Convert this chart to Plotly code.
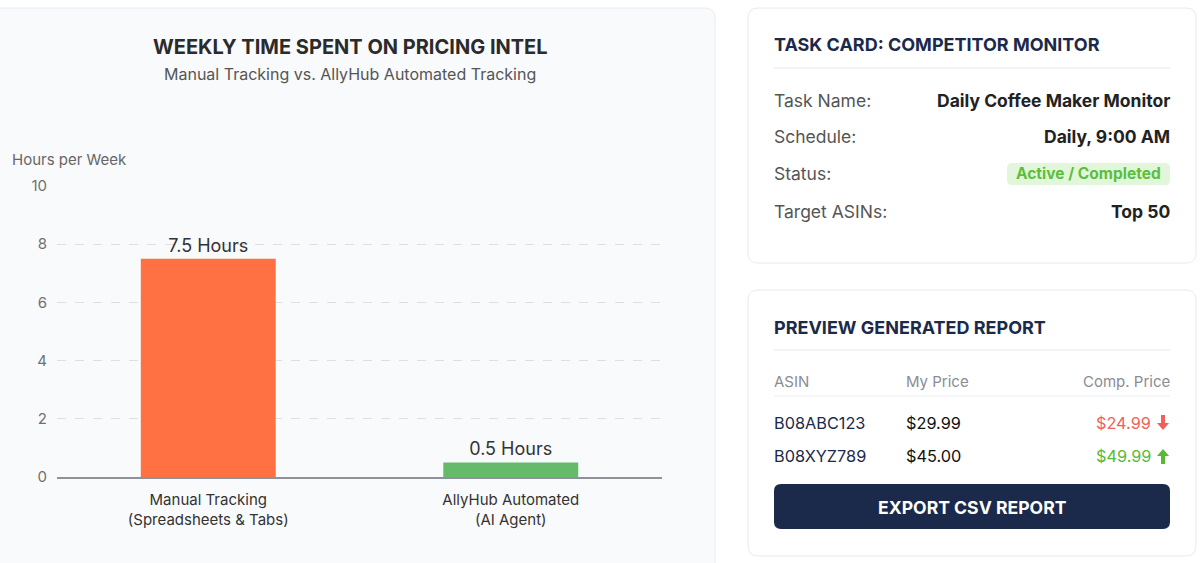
import plotly.graph_objects as go

# ---------------- data ----------------
categories = ["Manual Tracking<br>(Spreadsheets & Tabs)", "AllyHub Automated<br>(AI Agent)"]
hours = [7.5, 0.5]
bar_labels = ["7.5 Hours", "0.5 Hours"]
bar_colors = ["#FF7043", "#66BB6A"]
y_ticks = [0, 2, 4, 6, 8, 10]

task_labels = ["Task Name:", "Schedule:", "Status:", "Target ASINs:"]
task_values = ["Daily Coffee Maker Monitor", "Daily, 9:00 AM", "Active / Completed", "Top 50"]

report_headers = ["ASIN", "My Price", "Comp. Price"]
report_asins = ["B08ABC123", "B08XYZ789"]
report_my_prices = ["$29.99", "$45.00"]
report_comp_prices = ["$24.99", "$49.99"]
report_direction = ["down", "up"]

FONT = "Inter, Roboto, sans-serif"
W, H = 1200, 563
L, R, T, B = 57, 662, 186, 477  # plot area in px


def px(x):
    return (x - L) / (R - L)


def py(y):
    return (B - y) / (B - T)


def rrect(x0, y0, x1, y1, r):
    pts = [
        f"M {px(x0 + r)},{py(y0)}",
        f"L {px(x1 - r)},{py(y0)}",
        f"Q {px(x1)},{py(y0)} {px(x1)},{py(y0 + r)}",
        f"L {px(x1)},{py(y1 - r)}",
        f"Q {px(x1)},{py(y1)} {px(x1 - r)},{py(y1)}",
        f"L {px(x0 + r)},{py(y1)}",
        f"Q {px(x0)},{py(y1)} {px(x0)},{py(y1 - r)}",
        f"L {px(x0)},{py(y0 + r)}",
        f"Q {px(x0)},{py(y0)} {px(x0 + r)},{py(y0)}",
        "Z",
    ]
    return " ".join(pts)


shapes = []
annotations = []


def card(x0, y0, x1, y1, fill, line="#e8eaf0", r=10):
    shapes.append(dict(type="path", path=rrect(x0, y0, x1, y1, r), xref="paper", yref="paper",
                       fillcolor=fill, line=dict(color=line, width=1), layer="below"))


def hline(x0, x1, y, color="#e6e8ec", width=1):
    shapes.append(dict(type="line", xref="paper", yref="paper", x0=px(x0), x1=px(x1), y0=py(y), y1=py(y),
                       line=dict(color=color, width=width), layer="below"))


def text(x, y, s, size=16, color="#333", bold=False, anchor="left"):
    if bold:
        s = f"<b>{s}</b>"
    annotations.append(dict(x=px(x), y=py(y), xref="paper", yref="paper", text=s, showarrow=False,
                            xanchor=anchor, yanchor="middle", borderpad=0, borderwidth=0,
                            font=dict(size=size, color=color, family=FONT)))


# left chart card
card(-12, 8, 715, 600, "#f9fafc", line="#eaecf2")
# right cards
card(748, 8, 1196, 263, "#ffffff")
card(748, 290, 1196, 556, "#ffffff")

# chart titles
text(350, 47, "WEEKLY TIME SPENT ON PRICING INTEL", size=20, color="#2b2b2b", bold=True, anchor="center")
text(350, 74, "Manual Tracking vs. AllyHub Automated Tracking", size=16, color="#555", anchor="center")
text(12, 159, "Hours per Week", size=15, color="#666")

# task card
NAVY = "#1b2a4a"
text(774, 45, "TASK CARD: COMPETITOR MONITOR", size=18, color=NAVY, bold=True)
hline(774, 1170, 68)
row_y = [101, 137, 174, 211]
for lab, val, yy in zip(task_labels, task_values, row_y):
    text(774, yy, lab, size=17.5, color="#555")
    if lab == "Status:":
        shapes.append(dict(type="path", path=rrect(1007, 163, 1170, 185, 5), xref="paper", yref="paper",
                           fillcolor="#e2f6dc", line=dict(width=0), layer="below"))
        text(1088.5, yy, val, size=15.5, color="#5bbf3a", bold=True, anchor="center")
    else:
        text(1170, yy, val, size=17.5, color="#222", bold=True, anchor="right")

# report card
text(774, 327, "PREVIEW GENERATED REPORT", size=18, color=NAVY, bold=True)
hline(774, 1170, 350)
text(774, 381, report_headers[0], size=15, color="#8a8d93")
text(906, 381, report_headers[1], size=15, color="#8a8d93")
text(1170, 381, report_headers[2], size=15, color="#8a8d93", anchor="right")
hline(774, 1170, 396, color="#eceef1")
rows_y = [423, 456]
for a, m, c, d, yy in zip(report_asins, report_my_prices, report_comp_prices, report_direction, rows_y):
    col = "#f25f58" if d == "down" else "#55bb35"
    text(774, yy, a, size=16.3, color=NAVY)
    text(906, yy, m, size=16.3, color="#111")
    text(1151, yy, c, size=16.3, color=col, anchor="right")
    cx = 1163
    if d == "down":
        p = (f"M {px(cx-2)},{py(yy-8)} L {px(cx+2)},{py(yy-8)} L {px(cx+2)},{py(yy)} L {px(cx+6)},{py(yy)} "
             f"L {px(cx)},{py(yy+7)} L {px(cx-6)},{py(yy)} L {px(cx-2)},{py(yy)} Z")
    else:
        p = (f"M {px(cx-2)},{py(yy+8)} L {px(cx+2)},{py(yy+8)} L {px(cx+2)},{py(yy)} L {px(cx+6)},{py(yy)} "
             f"L {px(cx)},{py(yy-7)} L {px(cx-6)},{py(yy)} L {px(cx-2)},{py(yy)} Z")
    shapes.append(dict(type="path", path=p, xref="paper", yref="paper", fillcolor=col,
                       line=dict(width=0), layer="above"))

shapes.append(dict(type="path", path=rrect(774, 484, 1170, 529, 7), xref="paper", yref="paper",
                   fillcolor=NAVY, line=dict(width=0), layer="below"))
text(972, 507, "EXPORT CSV REPORT", size=17.6, color="#ffffff", bold=True, anchor="center")

# ---------------- chart ----------------
fig = go.Figure()
fig.add_trace(go.Bar(
    x=categories, y=hours, marker=dict(color=bar_colors, line=dict(width=0)),
    text=bar_labels, textposition="outside", cliponaxis=False,
    textfont=dict(size=18, color="#333", family=FONT), width=0.446,
    hoverinfo="skip",
))

fig.update_layout(
    width=W, height=H,
    margin=dict(l=L, r=W - R, t=T, b=H - B, pad=0),
    paper_bgcolor="#ffffff", plot_bgcolor="rgba(0,0,0,0)",
    showlegend=False,
    font=dict(family=FONT),
    shapes=shapes, annotations=annotations,
    bargap=0.554,
)
fig.update_yaxes(range=[0, 10], tickvals=y_ticks, showgrid=True, gridcolor="#dcdfe5", griddash="dash",
                 gridwidth=1, zeroline=False, showline=False, ticks="outside", ticklen=6,
                 tickcolor="rgba(0,0,0,0)", tickfont=dict(size=15, color="#707070", family=FONT), fixedrange=True)
fig.update_xaxes(showline=True, linecolor="#8f9298", linewidth=2, showgrid=False, ticks="outside",
                 ticklen=8, tickcolor="rgba(0,0,0,0)", tickfont=dict(size=15, color="#333", family=FONT),
                 fixedrange=True)

fig.write_html("out.html", config={"displayModeBar": False})
